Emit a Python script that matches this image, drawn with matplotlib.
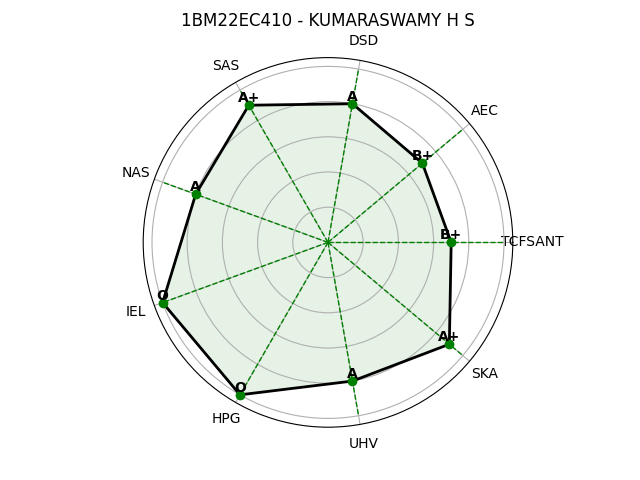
import numpy as np
import matplotlib
matplotlib.use('Agg')
import matplotlib.pyplot as plt

# subjects and grades
subjects = ['TCFSANT', 'AEC', 'DSD', 'SAS', 'NAS', 'IEL', 'HPG', 'UHV', 'SKA']
grades = ['B+', 'B+', 'A', 'A+', 'A', 'O', 'O', 'A', 'A+']
grade_points = {'O': 10, 'A+': 9, 'A': 8, 'B+': 7, 'B': 6, 'C': 5, 'P': 4, 'F': 0}
points = [grade_points[g] for g in grades]

n = len(subjects)
angles = np.linspace(0, 2 * np.pi, n, endpoint=False).tolist()
vals = points + points[:1]
ang = angles + angles[:1]

fig = plt.figure(figsize=(6.4, 4.8), dpi=100)
ax = plt.subplot(111, polar=True)

# spokes
for a in angles:
    ax.plot([a, a], [0, 10], color='green', linestyle='--', linewidth=1)

ax.fill(ang, vals, color='green', alpha=0.1)
ax.plot(ang, vals, color='black', linewidth=2)
ax.plot(angles, points, 'o', color='green')

for a, p, g in zip(angles, points, grades):
    ax.text(a, p, g, ha='center', va='bottom', fontsize=10, fontweight='bold')

ax.set_xticks(angles)
ax.set_xticklabels(subjects)
ax.set_ylim(0, 10.5)
ax.set_yticks([2, 4, 6, 8, 10])
ax.set_yticklabels([])
plt.title('1BM22EC410 - KUMARASWAMY H S')

plt.savefig('out.png', dpi=100)
